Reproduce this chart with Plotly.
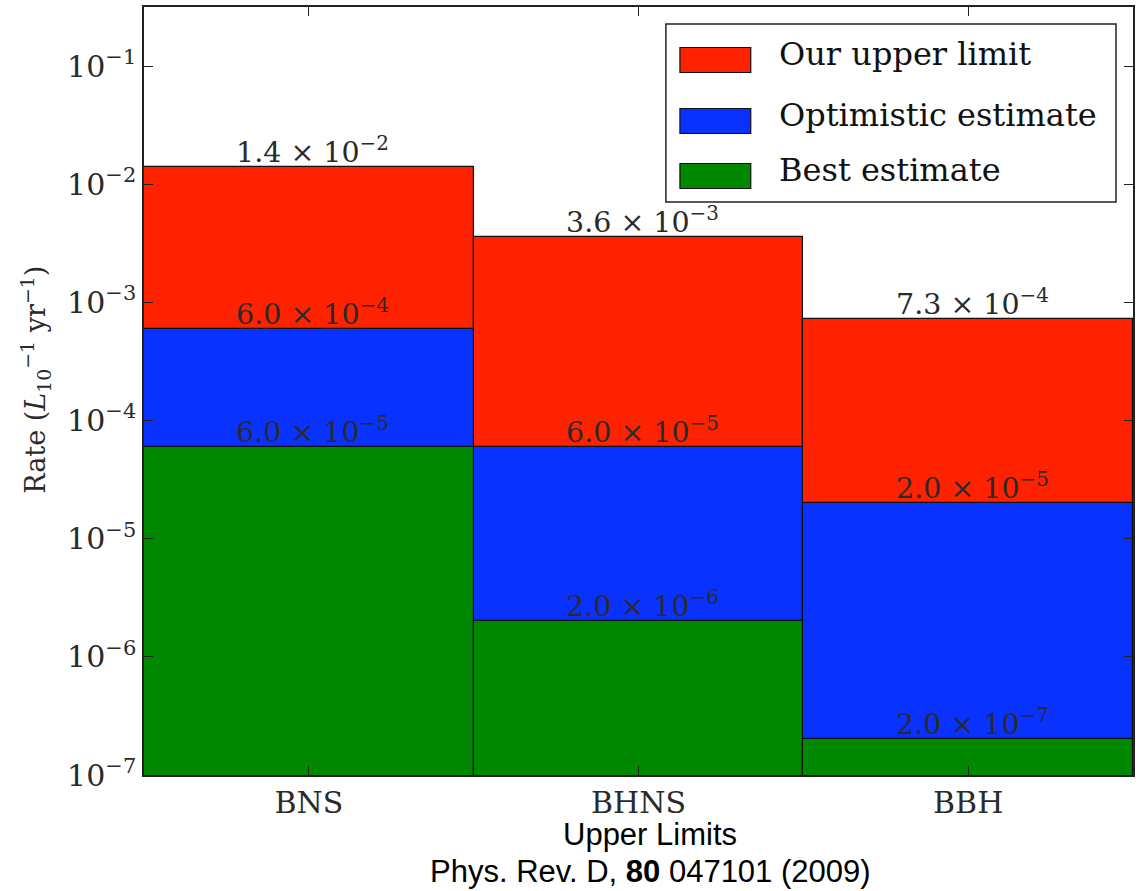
import math
import plotly.graph_objects as go

# Event-rate upper limits versus astrophysical predictions
categories = ["BNS", "BHNS", "BBH"]
upper_limit = [1.4e-2, 3.6e-3, 7.3e-4]
optimistic = [6.0e-4, 6.0e-5, 2.0e-5]
best = [6.0e-5, 2.0e-6, 2.0e-7]

series_names = ["Our upper limit", "Optimistic estimate", "Best estimate"]
series_colors = ["#ff2200", "#0a32ff", "#008800"]
series_values = [upper_limit, optimistic, best]

y_tick_exponents = [-7, -6, -5, -4, -3, -2, -1]

SERIF = "DejaVu Serif, serif"
SANS = "Liberation Sans, Arial, sans-serif"
TEXT = "#2a2a2a"


def sci_label(v):
    e = int(math.floor(math.log10(v) + 1e-9))
    m = v / 10 ** e
    return f"{m:.1f} × 10<sup>−{-e}</sup>"


fig = go.Figure()
x_pos = list(range(len(categories)))
for name, color, vals in zip(series_names, series_colors, series_values):
    fig.add_trace(go.Bar(
        x=x_pos, y=vals, name=name, width=1.0,
        marker=dict(color=color, line=dict(color="#111111", width=1.2)),
        showlegend=False, hoverinfo="y+name",
    ))

# Value labels sitting on each bar top
annotations = []
for vals in series_values:
    for xi, v in zip(x_pos, vals):
        annotations.append(dict(
            x=xi, y=math.log10(v), xref="x", yref="y",
            text=sci_label(v), showarrow=False,
            xanchor="center", yanchor="bottom", yshift=-4, xshift=4,
            font=dict(family=SERIF, size=28.5, color=TEXT),
        ))

# Legend box drawn by hand (wide swatches)
shapes = [dict(type="rect", xref="paper", yref="paper",
               x0=0.5277, x1=0.9828, y0=0.7461, y1=0.9779,
               line=dict(color="#222222", width=1.5), fillcolor="white",
               layer="above")]
row_py = [60, 121, 176]
for name, color, py in zip(series_names, series_colors, row_py):
    yc = (775 - py) / 768
    h = 12.5 / 768
    shapes.append(dict(type="rect", xref="paper", yref="paper",
                       x0=0.5419, x1=0.6135, y0=yc - h, y1=yc + h,
                       fillcolor=color, line=dict(color="#111111", width=1.2),
                       layer="above"))
    annotations.append(dict(
        x=0.6398, y=yc, xref="paper", yref="paper", text=name,
        showarrow=False, xanchor="left", yanchor="middle", yshift=6,
        font=dict(family=SERIF, size=32, color="#111111"),
    ))

# Axis titles
annotations.append(dict(
    x=-0.110, y=0.515, xref="paper", yref="paper",
    text="Rate (<i>L</i><sub>10</sub><sup>−1</sup> yr<sup>−1</sup>)",
    textangle=-90, showarrow=False, xanchor="center", yanchor="middle",
    font=dict(family=SERIF, size=27, color=TEXT),
))
annotations.append(dict(
    x=0.512, y=-0.078, xref="paper", yref="paper",
    text="Upper Limits", showarrow=False, xanchor="center", yanchor="middle",
    font=dict(family=SANS, size=31, color="#000000"),
))
annotations.append(dict(
    x=0.512, y=-0.126, xref="paper", yref="paper",
    text="Phys. Rev. D, <b>80</b> 047101 (2009)", showarrow=False,
    xanchor="center", yanchor="middle",
    font=dict(family=SANS, size=31, color="#000000"),
))

fig.update_layout(
    width=1138, height=891,
    margin=dict(l=144, r=3, t=7, b=116),
    paper_bgcolor="white", plot_bgcolor="white",
    barmode="overlay", bargap=0,
    annotations=annotations, shapes=shapes,
    xaxis=dict(
        range=[-0.5, 2.5], tickvals=x_pos, ticktext=categories,
        ticks="inside", ticklen=9, tickcolor="#222222",
        showline=True, linecolor="#222222", linewidth=1.5, mirror="ticks",
        showgrid=False, zeroline=False,
        tickfont=dict(family=SERIF, size=30, color=TEXT),
    ),
    yaxis=dict(
        type="log", range=[-7, -0.5],
        tickvals=[10 ** e for e in y_tick_exponents],
        ticktext=[f"10<sup>−{-e}</sup>" for e in y_tick_exponents],
        ticks="inside", ticklen=9, tickcolor="#222222",
        showline=True, linecolor="#222222", linewidth=1.5, mirror="ticks",
        showgrid=False, zeroline=False,
        tickfont=dict(family=SERIF, size=30, color=TEXT),
    ),
)

fig.write_html("out.html")
